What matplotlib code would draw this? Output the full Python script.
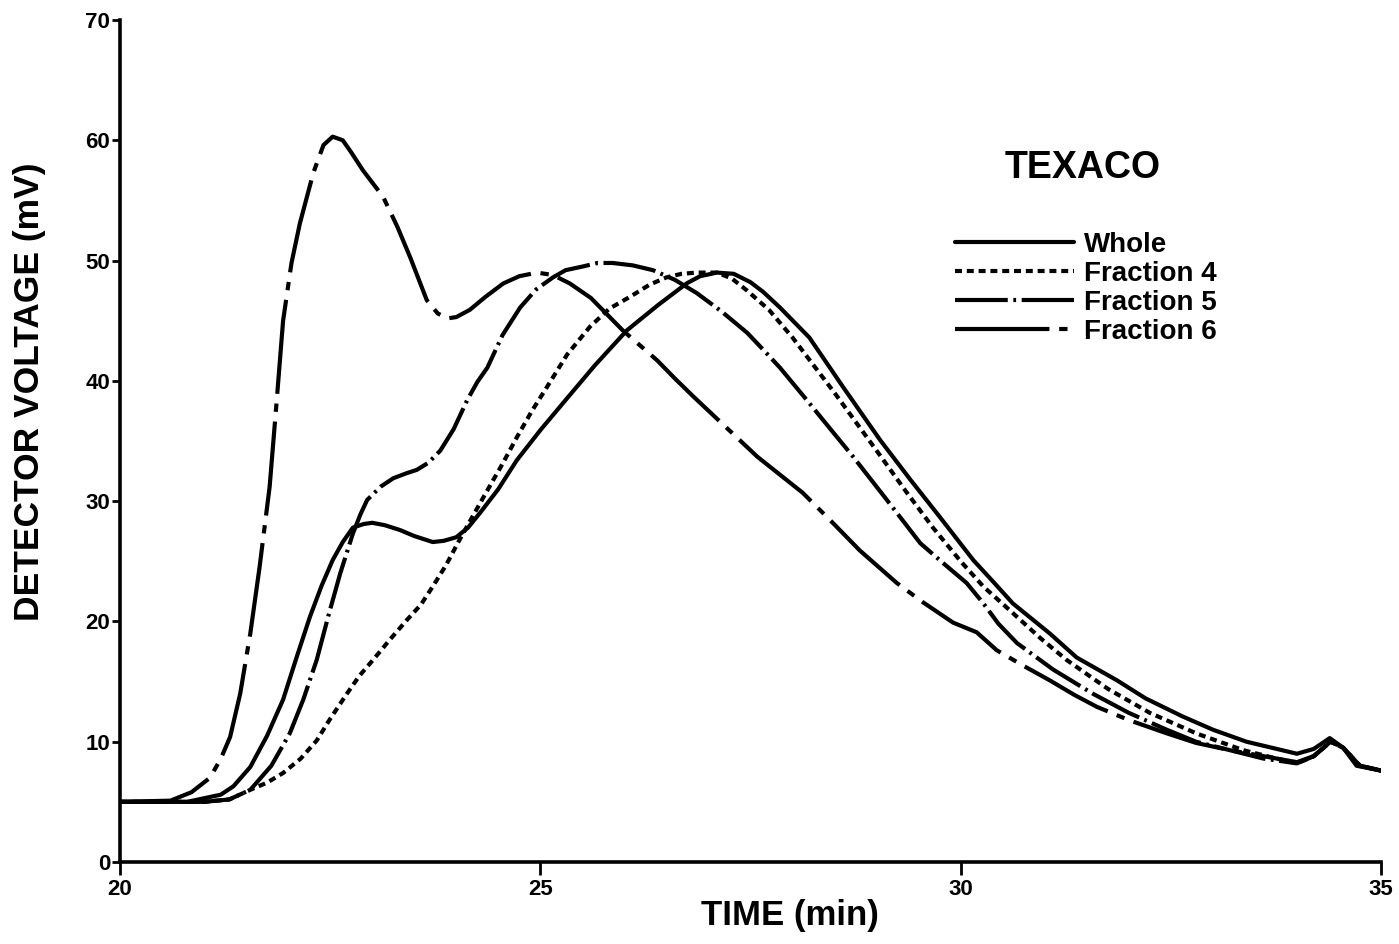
import matplotlib
matplotlib.use("Agg")
import matplotlib.pyplot as plt

plt.rcParams['font.family'] = ['Liberation Sans', 'DejaVu Sans']
plt.rcParams['font.weight'] = 'bold'
plt.rcParams['lines.scale_dashes'] = False

# ---- data ----
whole_t = [20, 20.8, 21.0, 21.2, 21.35, 21.55, 21.75, 21.94, 22.1, 22.26, 22.4, 22.53, 22.65,
           22.77, 22.9, 23.0, 23.15, 23.33, 23.5, 23.72, 23.85, 24.0, 24.14, 24.28, 24.5,
           24.72, 25.0, 25.3, 25.65, 26.03, 26.4, 26.74, 26.9, 27.1, 27.3, 27.5, 27.65, 27.85,
           28.2, 28.6, 29.04, 29.4, 29.75, 30.15, 30.4, 30.62, 31.06, 31.38, 31.86, 32.2,
           32.64, 33.0, 33.4, 33.7, 34.0, 34.2, 34.39, 34.55, 34.71, 35.0]
whole_v = [5, 5, 5.3, 5.6, 6.3, 7.9, 10.5, 13.5, 17.0, 20.4, 23.0, 25.1, 26.6,
           27.8, 28.1, 28.2, 28.0, 27.6, 27.1, 26.6, 26.7, 27.0, 27.8, 29.0, 31.0,
           33.4, 35.9, 38.4, 41.3, 44.2, 46.3, 48.1, 48.7, 49.0, 48.9, 48.2, 47.4, 46.1,
           43.6, 39.5, 35.1, 31.8, 28.7, 25.1, 23.2, 21.5, 19.0, 17.0, 15.1, 13.6,
           12.1, 11.0, 10.0, 9.5, 9.0, 9.4, 10.3, 9.5, 8.0, 7.6]

frac4_t = [20, 21.0, 21.3, 21.55, 21.75, 21.94, 22.15, 22.34, 22.5, 22.7, 22.85, 23.01, 23.2,
           23.41, 23.58, 23.72, 23.88, 24.04, 24.2, 24.37, 24.55, 24.72, 24.9, 25.08, 25.32,
           25.59, 25.82, 26.07, 26.3, 26.5, 26.68, 26.86, 27.1, 27.28, 27.46, 27.72, 28.0,
           28.5, 29.0, 29.35, 29.67, 30.0, 30.27, 30.62, 30.95, 31.26, 31.75, 32.25, 32.8,
           33.36, 33.7, 34.0, 34.2, 34.4, 34.55, 34.75, 35.0]
frac4_v = [5, 5, 5.2, 6.0, 6.6, 7.4, 8.6, 10.1, 11.9, 14.0, 15.5, 16.8, 18.4,
           20.1, 21.4, 22.9, 24.7, 26.8, 28.8, 30.9, 33.1, 35.3, 37.5, 39.5, 42.2,
           44.5, 46.0, 47.0, 48.0, 48.6, 48.9, 49.0, 49.0, 48.5, 47.5, 45.9, 43.6,
           39.0, 34.2, 30.8, 27.8, 25.0, 22.9, 20.7, 18.6, 16.8, 14.4, 12.4, 10.7,
           9.3, 8.7, 8.2, 8.8, 10.0, 9.5, 8.0, 7.6]

frac5_t = [20, 21.0, 21.3, 21.55, 21.8, 22.02, 22.18, 22.34, 22.48, 22.62, 22.77, 22.86, 22.94,
           23.1, 23.25, 23.4, 23.53, 23.67, 23.81, 23.97, 24.13, 24.25, 24.37, 24.55, 24.76,
           24.95, 25.15, 25.3, 25.5, 25.68, 25.86, 26.1, 26.34, 26.6, 26.86, 27.15, 27.46,
           27.65, 27.85, 28.17, 28.45, 28.72, 29.1, 29.52, 29.8, 30.07, 30.27, 30.45, 30.67,
           31.1, 31.57, 32.0, 32.45, 32.8, 33.2, 33.6, 34.0, 34.2, 34.4, 34.55, 34.75, 35.0]
frac5_v = [5, 5, 5.2, 6.0, 8.0, 10.7, 13.5, 16.8, 20.5, 24.0, 27.3, 28.9, 30.1,
           31.2, 31.9, 32.3, 32.6, 33.2, 34.2, 36.0, 38.4, 39.9, 41.1, 43.8, 46.1,
           47.6, 48.6, 49.2, 49.5, 49.8, 49.8, 49.6, 49.2, 48.4, 47.3, 45.8, 44.0,
           42.6, 41.1, 38.4, 36.0, 33.7, 30.3, 26.5, 24.8, 23.2, 21.5, 19.8, 18.2,
           16.0, 14.0, 12.4, 11.0, 10.0, 9.3, 8.6, 8.2, 8.8, 10.0, 9.5, 8.0, 7.6]

frac6_t = [20, 20.6, 20.85, 21.07, 21.2, 21.31, 21.43, 21.55, 21.66, 21.78, 21.86, 21.94, 22.04,
           22.14, 22.30, 22.42, 22.53, 22.65, 22.75, 22.89, 23.13, 23.3, 23.45, 23.65, 23.78,
           23.9, 24.0, 24.16, 24.35, 24.56, 24.75, 24.96, 25.15, 25.35, 25.6, 25.98, 26.39,
           26.6, 26.82, 27.2, 27.58, 27.85, 28.12, 28.45, 28.8, 29.24, 29.55, 29.91, 30.19,
           30.43, 30.75, 31.06, 31.35, 31.62, 32.0, 32.45, 32.8, 33.2, 33.6, 34.0, 34.2,
           34.4, 34.55, 34.75, 35.0]
frac6_v = [5, 5.1, 5.8, 7.0, 8.6, 10.4, 14.0, 19.0, 24.5, 31.2, 38.0, 45.0, 49.8,
           53.1, 57.3, 59.6, 60.3, 60.0, 59.0, 57.5, 55.3, 52.8, 50.3, 46.7, 45.6,
           45.2, 45.3, 45.9, 47.0, 48.1, 48.7, 49.0, 48.8, 48.1, 46.9, 44.2, 41.7,
           40.2, 38.7, 36.2, 33.7, 32.2, 30.7, 28.4, 25.9, 23.2, 21.6, 19.9, 19.1,
           17.6, 16.3, 15.1, 13.9, 12.9, 11.8, 10.7, 9.9, 9.3, 8.8, 8.3, 8.8,
           10.0, 9.5, 8.0, 7.6]

labels = ["Whole", "Fraction 4", "Fraction 5", "Fraction 6"]
x_ticks = [20, 25, 30, 35]
y_ticks = [0, 10, 20, 30, 40, 50, 60, 70]

# ---- figure ----
W, H = 1399, 944
fig = plt.figure(figsize=(W / 100, H / 100), dpi=100)
ax = fig.add_axes([120 / W, 1 - 862 / H, (1381 - 120) / W, (862 - 20) / H])

lw = 3.0
l1, = ax.plot(whole_t, whole_v, color='black', lw=lw, solid_capstyle='round',
              solid_joinstyle='round', label=labels[0])
l2, = ax.plot(frac4_t, frac4_v, color='black', lw=lw, dashes=(5, 3.5),
              dash_capstyle='butt', dash_joinstyle='round', label=labels[1])
l3, = ax.plot(frac5_t, frac5_v, color='black', lw=lw, dashes=(38, 4, 2, 4),
              dash_capstyle='butt', dash_joinstyle='round', label=labels[2])
l4, = ax.plot(frac6_t, frac6_v, color='black', lw=lw, dashes=(68, 7, 6, 7),
              dash_capstyle='butt', dash_joinstyle='round', label=labels[3])

ax.set_xlim(20, 35)
ax.set_ylim(0, 70)
ax.set_xticks(x_ticks)
ax.set_yticks(y_ticks)
ax.tick_params(axis='both', direction='out', width=2, labelsize=16, colors='black')
ax.tick_params(axis='y', length=5.5, pad=1.5)
ax.tick_params(axis='x', length=9, pad=3)
for lab in ax.get_xticklabels() + ax.get_yticklabels():
    lab.set_fontweight('bold')
for s in ['top', 'right']:
    ax.spines[s].set_visible(False)
for s in ['left', 'bottom']:
    ax.spines[s].set_linewidth(2.6)

fig.text(30 / W, 1 - 392 / H, "DETECTOR VOLTAGE (mV)", rotation=90, ha='center', va='center',
         fontsize=25.5, fontweight='bold')
fig.text(790 / W, 1 - 915 / H, "TIME (min)", ha='center', va='center',
         fontsize=25, fontweight='bold')

fig.text(1083 / W, 1 - 168 / H, "TEXACO", ha='center', va='center', fontsize=27,
         fontweight='bold')

leg = ax.legend(handles=[l1, l2, l3, l4], loc='upper left',
                bbox_to_anchor=(955 / W, 1 - 232 / H), bbox_transform=fig.transFigure,
                frameon=False, fontsize=20, handlelength=4.3, handletextpad=0.35,
                labelspacing=0.11, borderpad=0, borderaxespad=0)
for t in leg.get_texts():
    t.set_fontweight('bold')

fig.savefig("out.png", dpi=100)
